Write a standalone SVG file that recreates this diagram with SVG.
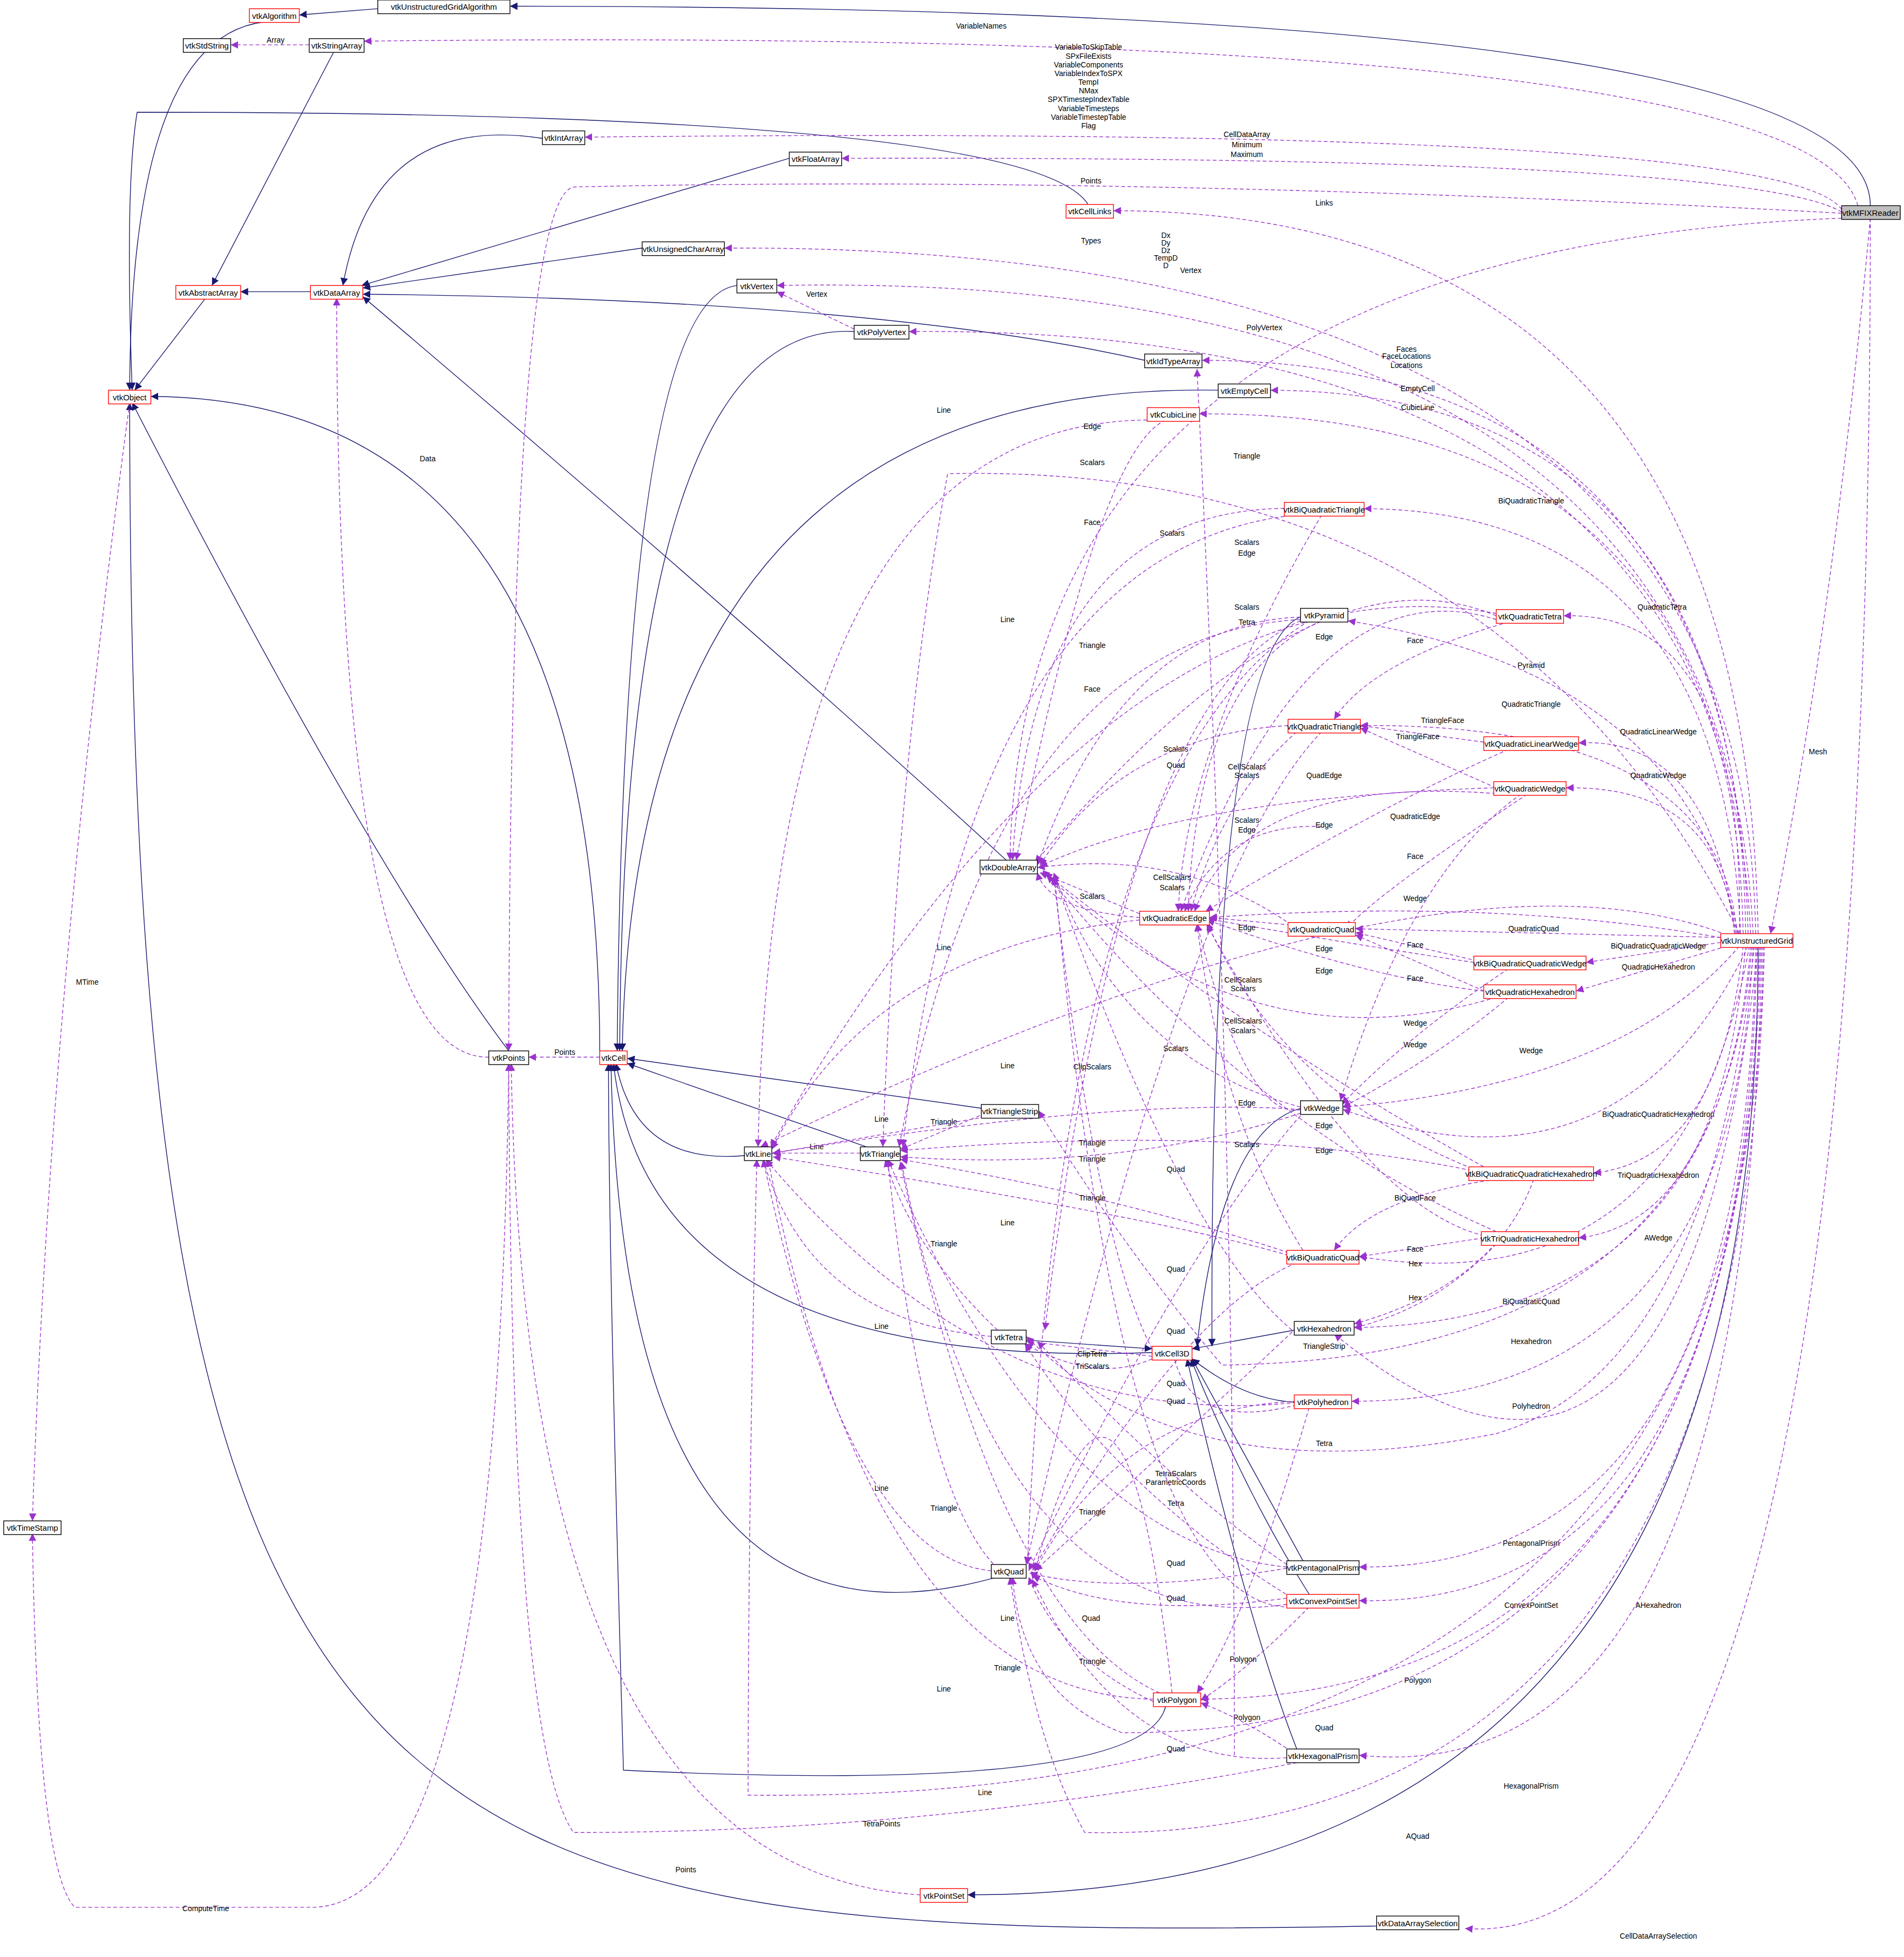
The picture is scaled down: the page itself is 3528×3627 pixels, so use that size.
<svg xmlns="http://www.w3.org/2000/svg" width="3528" height="3627" viewBox="0 0 3528 3627">
<style>
.n rect{fill:#fff;stroke:#000;stroke-width:0.6}
.r rect{stroke:#f00}
.g rect{fill:#bfbfbf}
text{font-family:"Liberation Sans",Arial,sans-serif;font-size:6.5px;fill:#000}
.n text{text-anchor:middle}
.i{fill:none;stroke:#191970;stroke-width:0.6;marker-end:url(#ai)}
.u{fill:none;stroke:#9a32cd;stroke-width:0.6;stroke-dasharray:3,2;marker-end:url(#au)}
.l{font-size:6px;text-anchor:middle}
</style>
<defs>
<marker id="ai" markerUnits="userSpaceOnUse" markerWidth="6" markerHeight="6" refX="6" refY="3" orient="auto"><path d="M0,0L6,3L0,6z" fill="#191970"/></marker>
<marker id="au" markerUnits="userSpaceOnUse" markerWidth="6" markerHeight="6" refX="6" refY="3" orient="auto"><path d="M0,0L6,3L0,6z" fill="#9a32cd"/></marker>
</defs>
<rect width="3528" height="3627" fill="#fff"/>
<g transform="scale(2.3104)">
<g id="connectors">
<!-- inheritance -->
<path class="i" d="M1500,165 Q1500,5 409,5"/>
<path class="i" d="M303,7 L240,12"/>
<path class="i" d="M220,17 Q105,20 104,313"/>
<path class="i" d="M268,41 L170,229"/>
<path class="i" d="M165,239 L108,313"/>
<path class="i" d="M249,234 L193,234"/>
<path class="i" d="M435,111 Q300,90 275,229"/>
<path class="i" d="M633,127 L290,229"/>
<path class="i" d="M515,199 L291,231"/>
<path class="i" d="M918,289 Q700,240 291,236"/>
<path class="i" d="M807,690 Q600,500 291,238"/>
<path class="i" d="M875,169 Q850,90 110,90 Q100,150 106,313"/>
<path class="i" d="M481,843 Q480,320 121,318"/>
<path class="i" d="M408,843 Q300,700 106,323"/>
<path class="i" d="M591,229 Q500,240 495,843"/>
<path class="i" d="M685,266 Q500,255 497,843"/>
<path class="i" d="M977,313 Q510,305 499,843"/>
<path class="i" d="M787,889 L503,849"/>
<path class="i" d="M597,927 Q510,935 494,853"/>
<path class="i" d="M695,920 L503,853"/>
<path class="i" d="M924,1085 Q520,1100 492,853"/>
<path class="i" d="M800,1265 Q500,1350 490,853"/>
<path class="i" d="M935,1368 Q920,1440 500,1420 Q488,1000 488,853"/>
<path class="i" d="M1050,493 Q970,500 972,1080"/>
<path class="i" d="M1048,888 Q980,900 960,1080"/>
<path class="i" d="M1038,1067 L956,1082"/>
<path class="i" d="M823,1075 L924,1082"/>
<path class="i" d="M1045,1125 Q1000,1125 956,1090"/>
<path class="i" d="M1045,1252 L956,1090"/>
<path class="i" d="M1050,1279 Q1000,1200 955,1090"/>
<path class="i" d="M1040,1403 Q1000,1300 952,1090"/>
<path class="i" d="M1410,759 Q1410,1520 776,1520"/>
<path class="i" d="M1104,1545 C300,1560 104,1500 104,323"/>
<!-- usage -->
<path class="u" d="M248,36 L185,36"/><text class="l" x="221" y="34">Array</text>
<path class="u" d="M1490,165 Q1450,20 292,33"/><text class="l" x="787" y="23">VariableNames</text>
<path class="u" d="M1477,168 Q1430,100 469,110"/>
<path class="u" d="M1477,170 Q1400,125 675,127"/><text class="l" x="1000" y="110">CellDataArray</text><text class="l" x="1000" y="118">Minimum</text><text class="l" x="1000" y="126">Maximum</text>
<text class="l" x="873" y="40">VariableToSkipTable</text><text class="l" x="873" y="47">SPxFileExists</text><text class="l" x="873" y="54">VariableComponents</text><text class="l" x="873" y="61">VariableIndexToSPX</text><text class="l" x="873" y="68">TempI</text><text class="l" x="873" y="75">NMax</text><text class="l" x="873" y="82">SPXTimestepIndexTable</text><text class="l" x="873" y="89">VariableTimesteps</text><text class="l" x="873" y="96">VariableTimestepTable</text><text class="l" x="873" y="103">Flag</text>
<path class="u" d="M1477,171 Q900,140 460,150 Q410,160 408,843"/><text class="l" x="875" y="147">Points</text>
<path class="u" d="M1477,175 Q820,200 810,690"/><text class="l" x="935" y="191">Dx</text><text class="l" x="935" y="197">Dy</text><text class="l" x="935" y="203">Dz</text><text class="l" x="935" y="209">TempD</text><text class="l" x="935" y="215">D</text>
<path class="u" d="M1500,175 Q1470,500 1420,749"/><text class="l" x="1458" y="605">Mesh</text>
<path class="u" d="M1500,175 Q1500,1570 1175,1547"/><text class="l" x="1330" y="1555">CellDataArraySelection</text>
<path class="u" d="M1410,749 Q1400,170 893,169"/><text class="l" x="1062" y="165">Links</text>
<path class="u" d="M1408,749 Q1400,195 581,199"/><text class="l" x="875" y="195">Types</text>
<path class="u" d="M1406,749 Q1380,215 623,229"/><text class="l" x="955" y="219">Vertex</text>
<path class="u" d="M1404,749 Q1380,260 729,266"/><text class="l" x="1014" y="265">PolyVertex</text>
<path class="u" d="M1402,749 Q1390,290 964,289"/><text class="l" x="1128" y="282">Faces</text><text class="l" x="1128" y="288">FaceLocations</text><text class="l" x="1128" y="295">Locations</text>
<path class="u" d="M1400,749 Q1395,315 1019,313"/><text class="l" x="1137" y="314">EmptyCell</text>
<path class="u" d="M1398,749 Q1390,330 962,332"/><text class="l" x="1137" y="329">CubicLine</text>
<path class="u" d="M1396,749 Q1380,410 1094,408"/><text class="l" x="1228" y="404">BiQuadraticTriangle</text>
<path class="u" d="M1395,749 Q1400,490 1254,494"/><text class="l" x="1333" y="489">QuadraticTetra</text>
<path class="u" d="M1394,749 Q1350,540 1081,498"/><text class="l" x="1228" y="536">Pyramid</text>
<path class="u" d="M1393,749 Q1380,580 1091,582"/><text class="l" x="1228" y="567">QuadraticTriangle</text>
<path class="u" d="M1392,749 Q1370,590 1266,596"/><text class="l" x="1330" y="589">QuadraticLinearWedge</text>
<path class="u" d="M1391,749 Q1380,630 1256,632"/><text class="l" x="1330" y="624">QuadraticWedge</text>
<path class="u" d="M1385,753 Q1200,720 970,736"/><text class="l" x="1135" y="657">QuadraticEdge</text>
<path class="u" d="M1380,752 L1087,745"/><text class="l" x="1230" y="747">QuadraticQuad</text>
<path class="u" d="M1380,756 L1272,772"/><text class="l" x="1330" y="761">BiQuadraticQuadraticWedge</text>
<path class="u" d="M1385,759 L1264,795"/><text class="l" x="1330" y="778">QuadraticHexahedron</text>
<path class="u" d="M1395,759 Q1300,870 1077,888"/><text class="l" x="1228" y="845">Wedge</text>
<path class="u" d="M1398,759 Q1380,930 1278,941"/><text class="l" x="1330" y="896">BiQuadraticQuadraticHexahedron</text>
<path class="u" d="M1400,759 Q1380,980 1266,993"/><text class="l" x="1330" y="945">TriQuadraticHexahedron</text>
<path class="u" d="M1402,759 Q1300,970 1077,890"/><text class="l" x="1330" y="995">AWedge</text>
<path class="u" d="M1403,759 Q1350,1050 1090,1008"/><text class="l" x="1228" y="1046">BiQuadraticQuad</text>
<path class="u" d="M1404,759 Q1380,1060 1086,1065"/><text class="l" x="1228" y="1078">Hexahedron</text>
<path class="u" d="M1405,759 Q1380,1090 980,1095 Q900,1000 833,891"/><text class="l" x="1062" y="1082">TriangleStrip</text>
<path class="u" d="M1406,759 Q1390,1125 1084,1124"/><text class="l" x="1228" y="1130">Polyhedron</text>
<path class="u" d="M1407,759 Q1370,1100 1200,1150 Q950,1200 823,1072"/><text class="l" x="1062" y="1160">Tetra</text>
<path class="u" d="M1408,759 Q1400,1260 1090,1257"/><text class="l" x="1228" y="1240">PentagonalPrism</text>
<path class="u" d="M1409,759 Q1400,1290 1090,1284"/><text class="l" x="1228" y="1290">ConvexPointSet</text>
<path class="u" d="M1410,759 Q1350,1300 1070,1070"/><text class="l" x="1330" y="1290">AHexahedron</text>
<path class="u" d="M1411,759 Q1400,1360 963,1363"/><text class="l" x="1137" y="1350">Polygon</text>
<path class="u" d="M1412,759 Q1400,1390 900,1390 Q820,1360 812,1265"/><text class="l" x="1062" y="1388">Quad</text>
<path class="u" d="M1413,759 Q1400,1440 1090,1408"/><text class="l" x="1228" y="1435">HexagonalPrism</text>
<path class="u" d="M1414,759 Q1410,1450 600,1440 Q600,1200 607,930"/><text class="l" x="790" y="1440">Line</text>
<path class="u" d="M1415,759 Q1400,1480 870,1470 Q830,1400 810,1265"/><text class="l" x="1137" y="1475">AQuad</text>
<path class="u" d="M1395,749 Q1200,370 760,380 Q720,600 708,920"/><text class="l" x="1000" y="368">Triangle</text>
<path class="u" d="M1385,750 Q1150,660 610,920"/>
<path class="u" d="M392,848 Q270,850 270,239"/><text class="l" x="343" y="370">Data</text>
<path class="u" d="M481,848 L424,848"/><text class="l" x="453" y="846">Points</text>
<path class="u" d="M104,323 Q40,800 26,1220"/><text class="l" x="70" y="790">MTime</text>
<path class="u" d="M408,853 Q400,1530 250,1530 L60,1530 Q30,1500 26,1230"/><text class="l" x="165" y="1533">ComputeTime</text>
<path class="u" d="M738,1520 Q420,1500 410,853"/><text class="l" x="550" y="1502">Points</text>
<path class="u" d="M1045,1413 Q750,1470 460,1470 Q410,1400 408,853"/><text class="l" x="707" y="1465">TetraPoints</text>
<!-- cell internal -->
<path class="u" d="M685,264 L623,234"/><text class="l" x="655" y="238">Vertex</text>
<path class="u" d="M690,925 L619,925"/><text class="l" x="655" y="922">Line</text>
<path class="u" d="M930,337 Q620,330 608,920"/><text class="l" x="757" y="331">Line</text>
<path class="u" d="M935,337 Q880,360 815,690"/><text class="l" x="876" y="344">Edge</text>
<path class="u" d="M1045,408 Q830,400 812,690"/><text class="l" x="876" y="373">Scalars</text>
<path class="u" d="M1040,413 Q780,440 724,920"/><text class="l" x="876" y="421">Face</text>
<path class="u" d="M1060,413 Q950,600 945,731"/><text class="l" x="940" y="430">Scalars</text>
<path class="u" d="M1210,494 Q900,430 618,920"/><text class="l" x="808" y="499">Line</text>
<path class="u" d="M1200,494 Q1050,430 830,692"/><text class="l" x="1000" y="437">Scalars</text>
<path class="u" d="M1200,497 Q1050,450 947,731"/><text class="l" x="1000" y="446">Edge</text>
<path class="u" d="M1210,499 Q1100,530 1070,577"/><text class="l" x="1135" y="516">Face</text>
<path class="u" d="M1043,495 Q900,500 832,694"/><text class="l" x="1000" y="489">Scalars</text>
<path class="u" d="M1043,497 Q800,510 721,920"/><text class="l" x="876" y="520">Triangle</text>
<path class="u" d="M1050,498 Q850,620 824,1255"/><text class="l" x="1000" y="501">Tetra</text>
<path class="u" d="M1060,498 Q960,540 953,731"/><text class="l" x="1062" y="513">Edge</text>
<path class="u" d="M1043,498 Q900,560 838,1067"/><text class="l" x="876" y="555">Face</text>
<path class="u" d="M1195,596 L1091,582"/><text class="l" x="1157" y="580">TriangleFace</text>
<path class="u" d="M1200,632 L1091,584"/><text class="l" x="1137" y="593">TriangleFace</text>
<path class="u" d="M1033,582 Q900,590 834,694"/><text class="l" x="943" y="603">Scalars</text>
<path class="u" d="M1040,587 Q980,640 955,731"/><text class="l" x="943" y="616">Quad</text>
<path class="u" d="M1060,587 Q950,700 823,1255"/>
<path class="u" d="M1198,632 Q950,640 834,695"/><text class="l" x="1000" y="617">CellScalars</text><text class="l" x="1000" y="624">Scalars</text>
<path class="u" d="M1205,637 Q1000,620 958,731"/><text class="l" x="1062" y="624">QuadEdge</text>
<path class="u" d="M1210,601 Q1100,650 967,731"/>
<path class="u" d="M1225,637 Q1100,720 1080,745"/><text class="l" x="1135" y="723">Wedge</text>
<path class="u" d="M1220,637 Q1130,700 1075,883"/><text class="l" x="1135" y="689">Face</text>
<path class="u" d="M1040,745 Q950,680 832,696"/><text class="l" x="1000" y="660">Scalars</text><text class="l" x="1000" y="668">Edge</text>
<path class="u" d="M1035,742 L970,736"/><text class="l" x="1000" y="746">Edge</text>
<path class="u" d="M914,736 Q840,730 832,700"/><text class="l" x="876" y="721">Scalars</text>
<path class="u" d="M914,733 L834,700"/><text class="l" x="940" y="706">CellScalars</text><text class="l" x="940" y="714">Scalars</text>
<path class="u" d="M914,738 Q700,760 619,922"/><text class="l" x="757" y="762">Line</text>
<path class="u" d="M1060,663 Q980,660 950,731"/><text class="l" x="1062" y="664">Edge</text>
<path class="u" d="M1182,772 Q1100,760 968,737"/><text class="l" x="1062" y="763">Edge</text>
<path class="u" d="M1190,795 Q1100,785 968,738"/><text class="l" x="1062" y="781">Edge</text>
<path class="u" d="M1190,772 L1087,748"/><text class="l" x="1135" y="760">Face</text>
<path class="u" d="M1195,797 L1087,750"/><text class="l" x="1135" y="787">Face</text>
<path class="u" d="M1200,800 Q1000,860 836,698"/><text class="l" x="997" y="788">CellScalars</text><text class="l" x="997" y="795">Scalars</text>
<path class="u" d="M1210,800 Q1150,850 1077,888"/><text class="l" x="1135" y="840">Wedge</text>
<path class="u" d="M1210,777 Q1130,830 1076,886"/><text class="l" x="1135" y="823">Wedge</text>
<path class="u" d="M1190,941 Q1030,880 968,740"/><text class="l" x="1062" y="925">Edge</text>
<path class="u" d="M1190,936 Q1000,830 838,700"/><text class="l" x="997" y="821">CellScalars</text><text class="l" x="997" y="829">Scalars</text>
<path class="u" d="M1200,946 Q1100,960 1070,1003"/><text class="l" x="1135" y="963">BiQuadFace</text>
<path class="u" d="M1230,946 Q1200,1030 1086,1062"/><text class="l" x="1135" y="1043">Hex</text>
<path class="u" d="M1190,993 L1090,1008"/><text class="l" x="1135" y="1004">Face</text>
<path class="u" d="M1200,998 Q1150,1050 1086,1065"/><text class="l" x="1135" y="1016">Hex</text>
<path class="u" d="M1200,993 Q1100,980 968,742"/><text class="l" x="1062" y="905">Edge</text>
<path class="u" d="M1200,988 Q1000,900 840,702"/><text class="l" x="943" y="843">Scalars</text>
<path class="u" d="M1190,941 Q1000,900 722,923"/><text class="l" x="876" y="919">Triangle</text>
<path class="u" d="M1043,890 Q1000,900 960,741"/><text class="l" x="1000" y="887">Edge</text>
<path class="u" d="M1043,890 Q900,880 620,925"/><text class="l" x="808" y="857">Line</text>
<path class="u" d="M1043,893 Q900,940 722,928"/><text class="l" x="876" y="932">Triangle</text>
<path class="u" d="M1043,895 Q950,1000 825,1260"/><text class="l" x="943" y="940">Quad</text>
<path class="u" d="M1043,888 Q900,850 845,700"/><text class="l" x="1000" y="920">Scalars</text>
<path class="u" d="M1043,1008 Q900,960 722,930"/><text class="l" x="876" y="963">Triangle</text>
<path class="u" d="M1043,1010 Q950,980 620,928"/><text class="l" x="808" y="983">Line</text>
<path class="u" d="M1040,1013 Q950,1050 828,1260"/><text class="l" x="943" y="1020">Quad</text>
<path class="u" d="M1045,1003 Q980,900 960,741"/>
<path class="u" d="M1040,1070 Q950,1000 845,702"/>
<path class="u" d="M1040,1065 Q950,1150 830,1260"/><text class="l" x="943" y="1070">Quad</text>
<path class="u" d="M795,1072 Q650,1060 612,930"/><text class="l" x="707" y="1066">Line</text>
<path class="u" d="M800,1067 Q730,1000 710,930"/><text class="l" x="757" y="1000">Triangle</text>
<path class="u" d="M924,1082 Q880,1000 845,703"/><text class="l" x="876" y="858">ClipScalars</text>
<path class="u" d="M924,1088 L823,1076"/><text class="l" x="876" y="1088">ClipTetra</text>
<path class="u" d="M924,1090 Q880,1110 822,1078"/><text class="l" x="876" y="1098">TriScalars</text>
<path class="u" d="M1040,1124 Q900,1130 830,1260"/><text class="l" x="943" y="1112">Quad</text>
<path class="u" d="M1040,1125 Q800,1150 614,930"/><text class="l" x="943" y="1126">Quad</text>
<path class="u" d="M1040,1127 Q950,1150 940,1080"/>
<path class="u" d="M1050,1129 Q1000,1300 960,1358"/>
<path class="u" d="M1032,1257 Q850,1240 712,930"/><text class="l" x="876" y="1215">Triangle</text>
<path class="u" d="M1032,1258 Q900,1280 826,1262"/><text class="l" x="943" y="1256">Quad</text>
<path class="u" d="M1032,1255 Q950,1200 832,1076"/><text class="l" x="943" y="1208">Tetra</text>
<path class="u" d="M1032,1282 Q900,1300 828,1264"/><text class="l" x="943" y="1284">Quad</text>
<path class="u" d="M1040,1284 Q900,1200 822,1078"/><text class="l" x="943" y="1184">TetraScalars</text><text class="l" x="943" y="1191">ParametricCoords</text>
<path class="u" d="M1032,1287 Q800,1320 723,932"/><text class="l" x="876" y="1335">Triangle</text>
<path class="u" d="M1050,1289 Q1000,1340 963,1364"/><text class="l" x="997" y="1333">Polygon</text>
<path class="u" d="M1040,1289 Q900,1300 846,704"/>
<path class="u" d="M925,1365 Q850,1330 825,1265"/><text class="l" x="875" y="1300">Quad</text>
<path class="u" d="M930,1358 Q800,1300 722,932"/><text class="l" x="808" y="1340">Triangle</text>
<path class="u" d="M925,1363 Q700,1360 616,930"/><text class="l" x="757" y="1357">Line</text>
<path class="u" d="M940,1358 Q900,1000 828,1267"/><text class="l" x="808" y="1300">Line</text>
<path class="u" d="M1040,1408 Q1000,1380 963,1366"/><text class="l" x="1000" y="1380">Polygon</text>
<path class="u" d="M1032,1410 Q900,1420 828,1267"/><text class="l" x="943" y="1405">Quad</text>
<path class="u" d="M795,1260 Q680,1250 612,930"/><text class="l" x="707" y="1196">Line</text>
<path class="u" d="M800,1258 Q740,1200 712,930"/><text class="l" x="757" y="1212">Triangle</text>
<path class="u" d="M795,891 L722,922"/><text class="l" x="757" y="902">Triangle</text>
<path class="u" d="M790,896 L620,925"/><text class="l" x="707" y="900">Line</text>
<path class="u" d="M990,1408 Q990,900 960,296"/>
</g>
<g id="vtkUnstructuredGridAlgorithm" class="n"><rect x="303" y="0" width="106" height="11"/><text x="356" y="8">vtkUnstructuredGridAlgorithm</text></g>
<g id="vtkAlgorithm" class="n r"><rect x="200" y="7" width="40" height="11"/><text x="220" y="15">vtkAlgorithm</text></g>
<g id="vtkStdString" class="n"><rect x="147" y="31" width="38" height="11"/><text x="166" y="39">vtkStdString</text></g>
<g id="vtkStringArray" class="n"><rect x="248" y="31" width="44" height="11"/><text x="270" y="39">vtkStringArray</text></g>
<g id="vtkIntArray" class="n"><rect x="435" y="105" width="34" height="11"/><text x="452" y="113">vtkIntArray</text></g>
<g id="vtkFloatArray" class="n"><rect x="633" y="122" width="42" height="11"/><text x="654" y="130">vtkFloatArray</text></g>
<g id="vtkCellLinks" class="n r"><rect x="855" y="164" width="38" height="11"/><text x="874" y="172">vtkCellLinks</text></g>
<g id="vtkMFIXReader" class="n g"><rect x="1477" y="165" width="47" height="11"/><text x="1500" y="173">vtkMFIXReader</text></g>
<g id="vtkUnsignedCharArray" class="n"><rect x="515" y="194" width="66" height="11"/><text x="548" y="202">vtkUnsignedCharArray</text></g>
<g id="vtkAbstractArray" class="n r"><rect x="141" y="229" width="52" height="11"/><text x="167" y="237">vtkAbstractArray</text></g>
<g id="vtkDataArray" class="n r"><rect x="249" y="229" width="42" height="11"/><text x="270" y="237">vtkDataArray</text></g>
<g id="vtkVertex" class="n"><rect x="591" y="224" width="32" height="11"/><text x="607" y="232">vtkVertex</text></g>
<g id="vtkPolyVertex" class="n"><rect x="685" y="261" width="44" height="11"/><text x="707" y="269">vtkPolyVertex</text></g>
<g id="vtkIdTypeArray" class="n"><rect x="918" y="284" width="46" height="11"/><text x="941" y="292">vtkIdTypeArray</text></g>
<g id="vtkObject" class="n r"><rect x="87" y="313" width="34" height="11"/><text x="104" y="321">vtkObject</text></g>
<g id="vtkEmptyCell" class="n"><rect x="977" y="308" width="42" height="11"/><text x="998" y="316">vtkEmptyCell</text></g>
<g id="vtkCubicLine" class="n r"><rect x="920" y="327" width="42" height="11"/><text x="941" y="335">vtkCubicLine</text></g>
<g id="vtkBiQuadraticTriangle" class="n r"><rect x="1030" y="403" width="64" height="11"/><text x="1062" y="411">vtkBiQuadraticTriangle</text></g>
<g id="vtkPyramid" class="n"><rect x="1043" y="488" width="38" height="11"/><text x="1062" y="496">vtkPyramid</text></g>
<g id="vtkQuadraticTetra" class="n r"><rect x="1200" y="489" width="54" height="11"/><text x="1227" y="497">vtkQuadraticTetra</text></g>
<g id="vtkQuadraticTriangle" class="n r"><rect x="1033" y="577" width="58" height="11"/><text x="1062" y="585">vtkQuadraticTriangle</text></g>
<g id="vtkQuadraticLinearWedge" class="n r"><rect x="1190" y="591" width="76" height="11"/><text x="1228" y="599">vtkQuadraticLinearWedge</text></g>
<g id="vtkQuadraticWedge" class="n r"><rect x="1198" y="627" width="58" height="11"/><text x="1227" y="635">vtkQuadraticWedge</text></g>
<g id="vtkDoubleArray" class="n"><rect x="786" y="690" width="46" height="11"/><text x="809" y="698">vtkDoubleArray</text></g>
<g id="vtkQuadraticEdge" class="n r"><rect x="914" y="731" width="56" height="11"/><text x="942" y="739">vtkQuadraticEdge</text></g>
<g id="vtkQuadraticQuad" class="n r"><rect x="1033" y="740" width="54" height="11"/><text x="1060" y="748">vtkQuadraticQuad</text></g>
<g id="vtkUnstructuredGrid" class="n r"><rect x="1380" y="749" width="58" height="11"/><text x="1409" y="757">vtkUnstructuredGrid</text></g>
<g id="vtkBiQuadraticQuadraticWedge" class="n r"><rect x="1182" y="767" width="90" height="11"/><text x="1227" y="775">vtkBiQuadraticQuadraticWedge</text></g>
<g id="vtkQuadraticHexahedron" class="n r"><rect x="1190" y="790" width="74" height="11"/><text x="1227" y="798">vtkQuadraticHexahedron</text></g>
<g id="vtkPoints" class="n"><rect x="392" y="843" width="32" height="11"/><text x="408" y="851">vtkPoints</text></g>
<g id="vtkCell" class="n r"><rect x="481" y="843" width="22" height="11"/><text x="492" y="851">vtkCell</text></g>
<g id="vtkTriangleStrip" class="n"><rect x="787" y="886" width="46" height="11"/><text x="810" y="894">vtkTriangleStrip</text></g>
<g id="vtkLine" class="n"><rect x="597" y="920" width="22" height="11"/><text x="608" y="928">vtkLine</text></g>
<g id="vtkTriangle" class="n"><rect x="690" y="920" width="32" height="11"/><text x="706" y="928">vtkTriangle</text></g>
<g id="vtkWedge" class="n"><rect x="1043" y="883" width="34" height="11"/><text x="1060" y="891">vtkWedge</text></g>
<g id="vtkBiQuadraticQuadraticHexahedron" class="n r"><rect x="1178" y="936" width="100" height="11"/><text x="1228" y="944">vtkBiQuadraticQuadraticHexahedron</text></g>
<g id="vtkTriQuadraticHexahedron" class="n r"><rect x="1188" y="988" width="78" height="11"/><text x="1227" y="996">vtkTriQuadraticHexahedron</text></g>
<g id="vtkBiQuadraticQuad" class="n r"><rect x="1032" y="1003" width="58" height="11"/><text x="1061" y="1011">vtkBiQuadraticQuad</text></g>
<g id="vtkHexahedron" class="n"><rect x="1038" y="1060" width="48" height="11"/><text x="1062" y="1068">vtkHexahedron</text></g>
<g id="vtkTetra" class="n"><rect x="795" y="1067" width="28" height="11"/><text x="809" y="1075">vtkTetra</text></g>
<g id="vtkCell3D" class="n r"><rect x="924" y="1080" width="32" height="11"/><text x="940" y="1088">vtkCell3D</text></g>
<g id="vtkPolyhedron" class="n r"><rect x="1038" y="1119" width="46" height="11"/><text x="1061" y="1127">vtkPolyhedron</text></g>
<g id="vtkTimeStamp" class="n"><rect x="3" y="1220" width="46" height="11"/><text x="26" y="1228">vtkTimeStamp</text></g>
<g id="vtkPentagonalPrism" class="n"><rect x="1032" y="1252" width="58" height="11"/><text x="1061" y="1260">vtkPentagonalPrism</text></g>
<g id="vtkQuad" class="n"><rect x="795" y="1255" width="28" height="11"/><text x="809" y="1263">vtkQuad</text></g>
<g id="vtkConvexPointSet" class="n r"><rect x="1032" y="1279" width="58" height="11"/><text x="1061" y="1287">vtkConvexPointSet</text></g>
<g id="vtkPolygon" class="n r"><rect x="925" y="1358" width="38" height="11"/><text x="944" y="1366">vtkPolygon</text></g>
<g id="vtkHexagonalPrism" class="n"><rect x="1032" y="1403" width="58" height="11"/><text x="1061" y="1411">vtkHexagonalPrism</text></g>
<g id="vtkPointSet" class="n r"><rect x="738" y="1515" width="38" height="11"/><text x="757" y="1523">vtkPointSet</text></g>
<g id="vtkDataArraySelection" class="n"><rect x="1104" y="1537" width="66" height="11"/><text x="1137" y="1545">vtkDataArraySelection</text></g>
</g>
</svg>
